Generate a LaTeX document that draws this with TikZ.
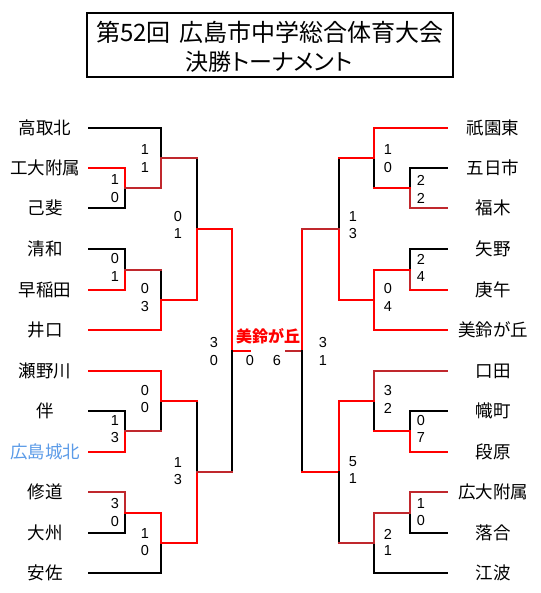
\documentclass[tikz,border=0pt]{standalone}
\usepackage{fontspec}
\setmainfont{Noto Sans CJK JP}
\newfontfamily\digitfont{Liberation Sans}
\definecolor{wr}{HTML}{FF0000}
\definecolor{dr}{HTML}{C0282D}
\definecolor{blu}{HTML}{5B9BE8}
\tikzset{
  bk/.style={draw=black, line width=2pt, line cap=rect},
  rd/.style={draw=wr, line width=2pt, line cap=rect},
  dk/.style={draw=dr, line width=2pt, line cap=rect},
  team/.style={font=\fontsize{17.5}{20}\selectfont, inner sep=0pt, anchor=center},
  score/.style={font=\digitfont\fontsize{14.5}{16}\selectfont, inner sep=0pt, anchor=center},
  titletext/.style={font=\fontsize{24}{26}\selectfont, inner sep=0pt, anchor=center},
}
\newcommand{\scorepair}[6]{%
  \node[score] (#1a) at (#2,#3) {#5};
  \node[score] (#1b) at (#2,#4) {#6};
}
\begin{document}
\begin{tikzpicture}[x=1pt,y=-1pt]
\useasboundingbox (0,0) rectangle (540,593);
\fill[white] (0,0) rectangle (540,593);

% title
\draw[line width=1.2pt] (87,13) rectangle (453,77);
\node[titletext] (t1) at (270,32) {第52回\hspace{9pt}広島市中学総合体育大会};
\node[titletext, font=\fontsize{23}{26}\selectfont\addfontfeatures{RawFeature=+palt}] (t2) at (269,62) {決勝トーナメント};

% leaf coordinates
\foreach \i/\y in {1/128,2/168,3/208,4/249,5/290,6/330,7/371,8/411,9/452,10/492,11/533,12/573}{
  \coordinate (La\i) at (89,\y);
  \coordinate (Ra\i) at (447,\y);
}
% junctions
\coordinate (m1) at (125,188); \coordinate (m2) at (125,270);
\coordinate (m3) at (125,431); \coordinate (m4) at (125,513);
\coordinate (q1) at (161,158); \coordinate (q2) at (161,300);
\coordinate (q3) at (161,401); \coordinate (q4) at (161,543);
\coordinate (s1) at (197,229); \coordinate (s2) at (197,472);
\coordinate (fL) at (232,351); \coordinate (fL2) at (250,351);
\coordinate (rm1) at (410,188); \coordinate (rm2) at (410,270);
\coordinate (rm3) at (410,431); \coordinate (rm4) at (410,513);
\coordinate (rq1) at (374,158); \coordinate (rq2) at (374,300);
\coordinate (rq3) at (374,401); \coordinate (rq4) at (374,543);
\coordinate (rs1) at (339,229); \coordinate (rs2) at (339,472);
\coordinate (fR) at (302,351); \coordinate (fR2) at (286,351);

% team names left
\node[team] (n1) at (45,128) {高取北};
\node[team] (n2) at (45,168) {工大附属};
\node[team] (n3) at (45,208) {己斐};
\node[team] (n4) at (45,249) {清和};
\node[team] (n5) at (45,290) {早稲田};
\node[team] (n6) at (45,330) {井口};
\node[team] (n7) at (45,371) {瀬野川};
\node[team] (n8) at (45,411) {伴};
\node[team, text=blu] (n9) at (45,452) {広島城北};
\node[team] (n10) at (45,492) {修道};
\node[team] (n11) at (45,533) {大州};
\node[team] (n12) at (45,573) {安佐};
% team names right
\node[team] (r1) at (493,128) {祇園東};
\node[team] (r2) at (493,168) {五日市};
\node[team] (r3) at (493,208) {福木};
\node[team] (r4) at (493,249) {矢野};
\node[team] (r5) at (493,290) {庚午};
\node[team] (r6) at (493,330) {美鈴が丘};
\node[team] (r7) at (493,371) {口田};
\node[team] (r8) at (493,411) {幟町};
\node[team] (r9) at (493,452) {段原};
\node[team] (r10) at (493,492) {広大附属};
\node[team] (r11) at (493,533) {落合};
\node[team] (r12) at (493,573) {江波};

% left upper
\draw[bk] (La1) -| (q1);
\draw[rd] (La2) -| (m1);
\draw[bk] (La3) -| (m1);
\draw[dk] (m1) -| (q1);
\draw[bk] (q1 -| s1) -- (s1);
\draw[dk] (q1) -- (q1 -| s1);
\draw[bk] (La4) -| (m2);
\draw[rd] (La5) -| (m2);
\draw[bk] (m2 -| q2) -- (q2);
\draw[dk] (m2) -- (m2 -| q2);
\draw[rd] (La6) -| (q2);
\draw[rd] (q2) -| (s1);
\draw[rd] (s1) -| (fL);
\draw[rd] (fL) -- (fL2);
% left lower
\draw[rd] (La7) -| (q3);
\draw[bk] (La8) -| (m3);
\draw[rd] (La9) -| (m3);
\draw[bk] (m3 -| q3) -- (q3);
\draw[dk] (m3) -- (m3 -| q3);
\draw[bk] (q3 -| s2) -- (s2);
\draw[rd] (q3) -- (q3 -| s2);
\draw[dk] (La10) -| (m4);
\draw[bk] (La11) -| (m4);
\draw[bk] (La12) -| (q4);
\draw[rd] (m4) -| (q4);
\draw[rd] (q4) -| (s2);
\draw[bk] (s2 -| fL) -- (fL);
\draw[dk] (s2) -- (s2 -| fL);

% right upper
\draw[rd] (Ra1) -| (rq1);
\draw[bk] (Ra2) -| (rm1);
\draw[dk] (Ra3) -| (rm1);
\draw[bk] (rm1 -| rq1) -- (rq1);
\draw[rd] (rm1) -- (rm1 -| rq1);
\draw[bk] (rq1 -| rs1) -- (rs1);
\draw[rd] (rq1) -- (rq1 -| rs1);
\draw[bk] (Ra4) -| (rm2);
\draw[dk] (Ra5 -| rm2) -- (rm2);
\draw[rd] (Ra5) -- (Ra5 -| rm2);
\draw[rd] (rm2) -| (rq2);
\draw[rd] (Ra6) -| (rq2);
\draw[rd] (rq2) -| (rs1);
\draw[rd] (rs1 -| fR) -- (fR);
\draw[dk] (rs1) -- (rs1 -| fR);
\draw[dk] (fR) -- (fR2);
% right lower
\draw[dk] (Ra7) -| (rq3);
\draw[bk] (Ra8) -| (rm3);
\draw[rd] (Ra9) -| (rm3);
\draw[bk] (rm3 -| rq3) -- (rq3);
\draw[rd] (rm3) -- (rm3 -| rq3);
\draw[rd] (rq3) -| (rs2);
\draw[bk] (rs2 -| fR) -- (fR);
\draw[rd] (rs2) -- (rs2 -| fR);
\draw[dk] (Ra10) -| (rm4);
\draw[bk] (Ra11) -| (rm4);
\draw[bk] (Ra12) -| (rq4);
\draw[dk] (rm4) -| (rq4);
\draw[bk] (rq4 -| rs2) -- (rs2);
\draw[dk] (rq4) -- (rq4 -| rs2);

% scores left
\scorepair{sm1}{115}{180}{198}{1}{0}
\scorepair{sq1}{145}{150}{168}{1}{1}
\scorepair{sm2}{115}{259}{277}{0}{1}
\scorepair{sq2}{145}{289}{307}{0}{3}
\scorepair{ss1}{178}{217}{234}{0}{1}
\scorepair{sm3}{115}{421}{438}{1}{3}
\scorepair{sq3}{145}{391}{408}{0}{0}
\scorepair{sm4}{115}{504}{522}{3}{0}
\scorepair{sq4}{145}{534}{551}{1}{0}
\scorepair{ss2}{178}{463}{480}{1}{3}
\scorepair{sfl}{214}{343}{361}{3}{0}
% scores right
\scorepair{srq1}{388}{150}{168}{1}{0}
\scorepair{srm1}{421}{180}{198}{2}{2}
\scorepair{srm2}{421}{259}{277}{2}{4}
\scorepair{srq2}{388}{289}{307}{0}{4}
\scorepair{srs1}{353}{217}{234}{1}{3}
\scorepair{srq3}{388}{391}{408}{3}{2}
\scorepair{srm3}{421}{421}{438}{0}{7}
\scorepair{srm4}{421}{504}{521}{1}{0}
\scorepair{srq4}{388}{534}{551}{2}{1}
\scorepair{srs2}{353}{462}{479}{5}{1}
\scorepair{sfr}{323}{343}{361}{3}{1}
% final
\node[score] (fs1) at (250,361) {0};
\node[score] (fs2) at (277,361) {6};
\node[team, text=wr, font=\bfseries\fontsize{16}{18}\selectfont] (champ) at (268,336) {美鈴が丘};
\end{tikzpicture}
\end{document}
